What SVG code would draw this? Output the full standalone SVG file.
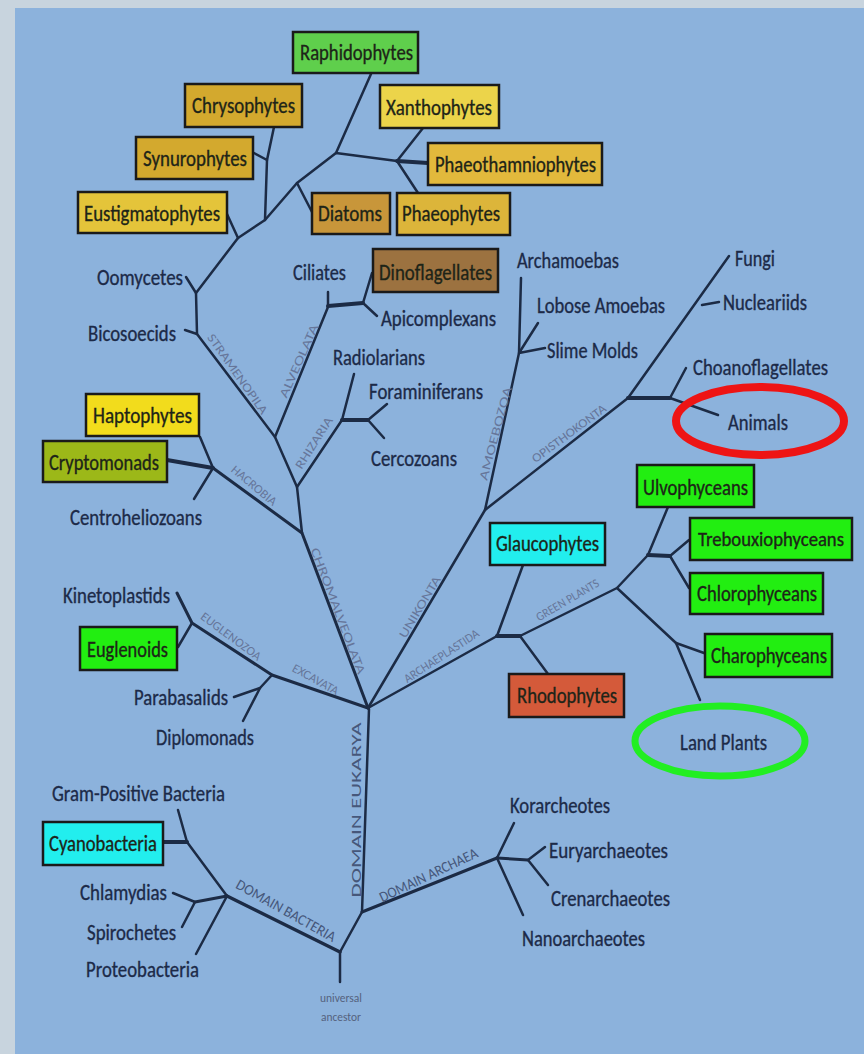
<svg xmlns="http://www.w3.org/2000/svg" width="864" height="1054" viewBox="0 0 864 1054">
<style>
.t{font-family:Carlito,"Liberation Sans Narrow","Liberation Sans",sans-serif;font-size:22px;fill:#1c2a48;stroke:#1c2a48;stroke-width:0.35}
.bt{font-family:Carlito,"Liberation Sans Narrow","Liberation Sans",sans-serif;font-size:22px;fill:#1d2418;stroke:#1d2418;stroke-width:0.35}
.bx{stroke:#1a1a1a;stroke-width:2.5}
.cl{font-family:Carlito,"Liberation Sans Narrow","Liberation Sans",sans-serif;font-size:12.5px;fill:#66769a}
.dm{font-family:Carlito,"Liberation Sans Narrow","Liberation Sans",sans-serif;font-size:15px;fill:#46577a}
.ua{font-family:Carlito,"Liberation Sans Narrow","Liberation Sans",sans-serif;font-size:12px;fill:#55627e}
.e{fill:none;stroke:#1c2b45;stroke-width:2.5;stroke-linejoin:round;stroke-linecap:round}
.k{stroke-width:4}
</style>
<rect x="0" y="0" width="864" height="1054" fill="#c8d4de"/>
<rect x="15" y="8" width="849" height="1046" fill="#8cb2dc"/>

<g id="connectors">
<path class="e" d="M369,709 L362,912"/>
<path class="e" d="M362,912 L497,858" style="stroke-width:3"/>
<path class="e" d="M362,912 L340,952 L340,982"/>
<path class="e" d="M340,952 L227,896" style="stroke-width:3.5"/>
<path class="e" d="M227,896 L187,842 L178,810"/>
<path class="e k" d="M187,842 L163,842"/>
<path class="e" d="M227,896 L195,902" style="stroke-width:3"/>
<path class="e" d="M173,893 L195,902 L182,927"/>
<path class="e" d="M227,896 L196,954"/>
<path class="e" d="M497,858 L514,823"/>
<path class="e" d="M497,858 L528,860" style="stroke-width:3"/>
<path class="e" d="M545,847 L528,860 L548,885"/>
<path class="e" d="M497,858 L523,915"/>
<path class="e" d="M368,708 L272,675 L192,623 L177,593" style="stroke-width:3"/>
<path class="e" d="M192,623 L178,647"/>
<path class="e" d="M272,675 L260,688 L234,697"/>
<path class="e" d="M260,688 L243,721"/>
<path class="e" d="M368,708 L302,533 L213,468" style="stroke-width:3"/>
<path class="e" d="M213,468 L200,437"/>
<path class="e k" d="M213,468 L167,460"/>
<path class="e" d="M213,468 L194,499"/>
<path class="e" d="M302,533 L297,487 L275,437 L197,334 L196,293 L238,238 L265,220 L297,183 L336,153 L397,161"/>
<path class="e" d="M197,334 L185,330"/>
<path class="e" d="M196,293 L186,277"/>
<path class="e" d="M238,238 L227,214"/>
<path class="e" d="M265,220 L267,160 L274,127"/>
<path class="e" d="M267,160 L254,153"/>
<path class="e" d="M297,183 L312,212"/>
<path class="e" d="M336,153 L371,74"/>
<path class="e" d="M397,161 L423,128"/>
<path class="e k" d="M397,161 L428,163"/>
<path class="e" d="M397,161 L418,193"/>
<path class="e" d="M297,487 L342,420 L354,374"/>
<path class="e k" d="M342,420 L368,420"/>
<path class="e" d="M387,404 L368,420 L384,438"/>
<path class="e" d="M275,437 L328,307 L328,292"/>
<path class="e k" d="M328,306 L363,303"/>
<path class="e" d="M372,273 L363,303 L377,316"/>
<path class="e" d="M368,708 L485,510 L519,353 L521,278"/>
<path class="e" d="M538,323 L519,353 L545,348"/>
<path class="e" d="M485,510 L628,398 L729,256"/>
<path class="e" d="M702,305 L719,302"/>
<path class="e k" d="M628,398 L670,398"/>
<path class="e" d="M686,368 L670,398 L718,415"/>
<path class="e" d="M368,708 L497,636 L520,636 L617,588 L648,555 L668,507"/>
<path class="e k" d="M497,636 L520,636"/>
<path class="e" d="M497,636 L523,565"/>
<path class="e" d="M520,636 L548,674"/>
<path class="e k" d="M648,555 L670,556"/>
<path class="e" d="M689,540 L670,556 L689,588"/>
<path class="e" d="M617,588 L676,643 L700,700"/>
<path class="e" d="M676,643 L704,653"/>
</g>

<g id="clade-labels">
<text class="cl" text-anchor="middle" textLength="95" lengthAdjust="spacingAndGlyphs" transform="translate(237.5,374) rotate(54.8)" y="4">STRAMENOPILA</text>
<text class="cl" text-anchor="middle" textLength="79" lengthAdjust="spacingAndGlyphs" transform="translate(299,361) rotate(-66)" y="4">ALVEOLATA</text>
<text class="cl" text-anchor="middle" textLength="59" lengthAdjust="spacingAndGlyphs" transform="translate(314,443) rotate(-57.4)" y="4">RHIZARIA</text>
<text class="cl" text-anchor="middle" textLength="55" lengthAdjust="spacingAndGlyphs" transform="translate(254,485.5) rotate(39.8)" y="4">HACROBIA</text>
<text class="cl" text-anchor="middle" textLength="134" lengthAdjust="spacingAndGlyphs" transform="translate(338,611) rotate(69.3)" y="4">CHROMALVEOLATA</text>
<text class="cl" text-anchor="middle" textLength="70" lengthAdjust="spacingAndGlyphs" transform="translate(420,607) rotate(-59)" y="4">UNIKONTA</text>
<text class="cl" text-anchor="middle" textLength="87" lengthAdjust="spacingAndGlyphs" transform="translate(441.5,656) rotate(-33.3)" y="4">ARCHAEPLASTIDA</text>
<text class="cl" text-anchor="middle" textLength="71" lengthAdjust="spacingAndGlyphs" transform="translate(567.5,600) rotate(-30.5)" y="4">GREEN PLANTS</text>
<text class="cl" text-anchor="middle" textLength="96" lengthAdjust="spacingAndGlyphs" transform="translate(495.5,433.5) rotate(-75)" y="4">AMOEBOZOA</text>
<text class="cl" text-anchor="middle" textLength="89" lengthAdjust="spacingAndGlyphs" transform="translate(569,433.5) rotate(-36.4)" y="4">OPISTHOKONTA</text>
<text class="cl" text-anchor="middle" textLength="72" lengthAdjust="spacingAndGlyphs" transform="translate(231,636.5) rotate(36.5)" y="4">EUGLENOZOA</text>
<text class="cl" text-anchor="middle" textLength="51" lengthAdjust="spacingAndGlyphs" transform="translate(315.5,679.5) rotate(29)" y="4">EXCAVATA</text>
<text class="dm" text-anchor="middle" textLength="175" lengthAdjust="spacingAndGlyphs" transform="translate(356,810) rotate(-90)" y="5">DOMAIN EUKARYA</text>
<text class="dm" text-anchor="middle" textLength="112" lengthAdjust="spacingAndGlyphs" transform="translate(286,910.5) rotate(29.3)" y="5">DOMAIN BACTERIA</text>
<text class="dm" text-anchor="middle" textLength="107" lengthAdjust="spacingAndGlyphs" transform="translate(428.5,875) rotate(-25.4)" y="5">DOMAIN ARCHAEA</text>
</g>

<g id="raphidophytes"><rect class="bx" x="293" y="32" width="125" height="41" fill="#5fcf4c"/><text class="bt" x="300" y="60" textLength="113" lengthAdjust="spacingAndGlyphs">Raphidophytes</text></g>
<g id="chrysophytes"><rect class="bx" x="185" y="84" width="117" height="43" fill="#d3a92e"/><text class="bt" x="192" y="113" textLength="103" lengthAdjust="spacingAndGlyphs">Chrysophytes</text></g>
<g id="synurophytes"><rect class="bx" x="136" y="137" width="117" height="42" fill="#d3a92e"/><text class="bt" x="143" y="166" textLength="104" lengthAdjust="spacingAndGlyphs">Synurophytes</text></g>
<g id="eustigmatophytes"><rect class="bx" x="78" y="192" width="149" height="41" fill="#e4c43a"/><text class="bt" x="84" y="221" textLength="136" lengthAdjust="spacingAndGlyphs">Eustigmatophytes</text></g>
<g id="xanthophytes"><rect class="bx" x="380" y="85" width="119" height="43" fill="#ecd44a"/><text class="bt" x="386" y="115" textLength="106" lengthAdjust="spacingAndGlyphs">Xanthophytes</text></g>
<g id="phaeothamniophytes"><rect class="bx" x="428" y="143" width="174" height="42" fill="#e2b93c"/><text class="bt" x="435" y="172" textLength="161" lengthAdjust="spacingAndGlyphs">Phaeothamniophytes</text></g>
<g id="diatoms"><rect class="bx" x="312" y="193" width="78" height="41" fill="#c8963a"/><text class="bt" x="318" y="221" textLength="64" lengthAdjust="spacingAndGlyphs">Diatoms</text></g>
<g id="phaeophytes"><rect class="bx" x="397" y="193" width="113" height="42" fill="#dcb53a"/><text class="bt" x="402" y="221" textLength="98" lengthAdjust="spacingAndGlyphs">Phaeophytes</text></g>
<g id="dinoflagellates"><rect class="bx" x="373" y="249" width="125" height="43" fill="#9c7240"/><text class="bt" x="379" y="280" textLength="113" lengthAdjust="spacingAndGlyphs">Dinoflagellates</text></g>
<g id="haptophytes"><rect class="bx" x="86" y="394" width="113" height="42" fill="#f2dc1c"/><text class="bt" x="93" y="423" textLength="99" lengthAdjust="spacingAndGlyphs">Haptophytes</text></g>
<g id="cryptomonads"><rect class="bx" x="43" y="441" width="124" height="41" fill="#9cb818"/><text class="bt" x="49" y="470" textLength="110" lengthAdjust="spacingAndGlyphs">Cryptomonads</text></g>
<g id="glaucophytes"><rect class="bx" x="490" y="523" width="115" height="42" fill="#22eeee"/><text class="bt" x="496" y="551" textLength="103" lengthAdjust="spacingAndGlyphs">Glaucophytes</text></g>
<g id="rhodophytes"><rect class="bx" x="509" y="674" width="115" height="43" fill="#d45a3a"/><text class="bt" x="517" y="703" textLength="100" lengthAdjust="spacingAndGlyphs">Rhodophytes</text></g>
<g id="ulvophyceans"><rect class="bx" x="637" y="465" width="117" height="42" fill="#22ee11"/><text class="bt" x="643" y="495" textLength="105" lengthAdjust="spacingAndGlyphs">Ulvophyceans</text></g>
<g id="trebouxiophyceans"><rect class="bx" x="690" y="518" width="162" height="42" fill="#22ee11"/><text class="bt" x="698" y="546" textLength="146" lengthAdjust="spacingAndGlyphs" style="font-size:20px">Trebouxiophyceans</text></g>
<g id="chlorophyceans"><rect class="bx" x="690" y="573" width="133" height="41" fill="#22ee11"/><text class="bt" x="697" y="601" textLength="120" lengthAdjust="spacingAndGlyphs">Chlorophyceans</text></g>
<g id="charophyceans"><rect class="bx" x="705" y="634" width="127" height="43" fill="#22ee11"/><text class="bt" x="711" y="663" textLength="116" lengthAdjust="spacingAndGlyphs">Charophyceans</text></g>
<g id="euglenoids"><rect class="bx" x="80" y="627" width="97" height="43" fill="#22ee11"/><text class="bt" x="87" y="657" textLength="81" lengthAdjust="spacingAndGlyphs">Euglenoids</text></g>
<g id="cyanobacteria"><rect class="bx" x="43" y="822" width="120" height="43" fill="#22eeee"/><text class="bt" x="49" y="851" textLength="108" lengthAdjust="spacingAndGlyphs">Cyanobacteria</text></g>

<g id="oomycetes"><text class="t" x="97" y="285" textLength="86" lengthAdjust="spacingAndGlyphs">Oomycetes</text></g>
<g id="bicosoecids"><text class="t" x="88" y="341" textLength="88" lengthAdjust="spacingAndGlyphs">Bicosoecids</text></g>
<g id="centroheliozoans"><text class="t" x="70" y="525" textLength="132" lengthAdjust="spacingAndGlyphs">Centroheliozoans</text></g>
<g id="ciliates"><text class="t" x="293" y="280" textLength="53" lengthAdjust="spacingAndGlyphs">Ciliates</text></g>
<g id="apicomplexans"><text class="t" x="381" y="326" textLength="115" lengthAdjust="spacingAndGlyphs">Apicomplexans</text></g>
<g id="radiolarians"><text class="t" x="333" y="365" textLength="92" lengthAdjust="spacingAndGlyphs">Radiolarians</text></g>
<g id="foraminiferans"><text class="t" x="369" y="399" textLength="114" lengthAdjust="spacingAndGlyphs">Foraminiferans</text></g>
<g id="cercozoans"><text class="t" x="371" y="466" textLength="86" lengthAdjust="spacingAndGlyphs">Cercozoans</text></g>
<g id="archamoebas"><text class="t" x="517" y="268" textLength="102" lengthAdjust="spacingAndGlyphs">Archamoebas</text></g>
<g id="lobose-amoebas"><text class="t" x="537" y="313" textLength="128" lengthAdjust="spacingAndGlyphs">Lobose Amoebas</text></g>
<g id="slime-molds"><text class="t" x="547" y="358" textLength="91" lengthAdjust="spacingAndGlyphs">Slime Molds</text></g>
<g id="fungi"><text class="t" x="735" y="266" textLength="40" lengthAdjust="spacingAndGlyphs">Fungi</text></g>
<g id="nucleariids"><text class="t" x="723" y="310" textLength="84" lengthAdjust="spacingAndGlyphs">Nucleariids</text></g>
<g id="choanoflagellates"><text class="t" x="693" y="375" textLength="135" lengthAdjust="spacingAndGlyphs">Choanoflagellates</text></g>
<g id="animals"><ellipse cx="760" cy="421" rx="84" ry="34" fill="none" stroke="#ee1414" stroke-width="8"/><text class="t" x="728" y="430" textLength="60" lengthAdjust="spacingAndGlyphs">Animals</text></g>
<g id="land-plants"><ellipse cx="720" cy="741" rx="85" ry="35" fill="none" stroke="#22ee22" stroke-width="7"/><text class="t" x="680" y="750" textLength="87" lengthAdjust="spacingAndGlyphs">Land Plants</text></g>
<g id="kinetoplastids"><text class="t" x="63" y="603" textLength="107" lengthAdjust="spacingAndGlyphs">Kinetoplastids</text></g>
<g id="parabasalids"><text class="t" x="134" y="705" textLength="94" lengthAdjust="spacingAndGlyphs">Parabasalids</text></g>
<g id="diplomonads"><text class="t" x="156" y="745" textLength="98" lengthAdjust="spacingAndGlyphs">Diplomonads</text></g>
<g id="gram-positive"><text class="t" x="52" y="801" textLength="173" lengthAdjust="spacingAndGlyphs">Gram-Positive Bacteria</text></g>
<g id="chlamydias"><text class="t" x="80" y="900" textLength="87" lengthAdjust="spacingAndGlyphs">Chlamydias</text></g>
<g id="spirochetes"><text class="t" x="87" y="940" textLength="89" lengthAdjust="spacingAndGlyphs">Spirochetes</text></g>
<g id="proteobacteria"><text class="t" x="86" y="977" textLength="113" lengthAdjust="spacingAndGlyphs">Proteobacteria</text></g>
<g id="korarcheotes"><text class="t" x="510" y="813" textLength="100" lengthAdjust="spacingAndGlyphs">Korarcheotes</text></g>
<g id="euryarchaeotes"><text class="t" x="549" y="858" textLength="119" lengthAdjust="spacingAndGlyphs">Euryarchaeotes</text></g>
<g id="crenarchaeotes"><text class="t" x="551" y="906" textLength="119" lengthAdjust="spacingAndGlyphs">Crenarchaeotes</text></g>
<g id="nanoarchaeotes"><text class="t" x="522" y="946" textLength="123" lengthAdjust="spacingAndGlyphs">Nanoarchaeotes</text></g>
<g id="universal-ancestor"><text class="ua" x="341" y="1002" text-anchor="middle" textLength="42" lengthAdjust="spacingAndGlyphs">universal</text><text class="ua" x="341" y="1021" text-anchor="middle" textLength="40" lengthAdjust="spacingAndGlyphs">ancestor</text></g>
</svg>
